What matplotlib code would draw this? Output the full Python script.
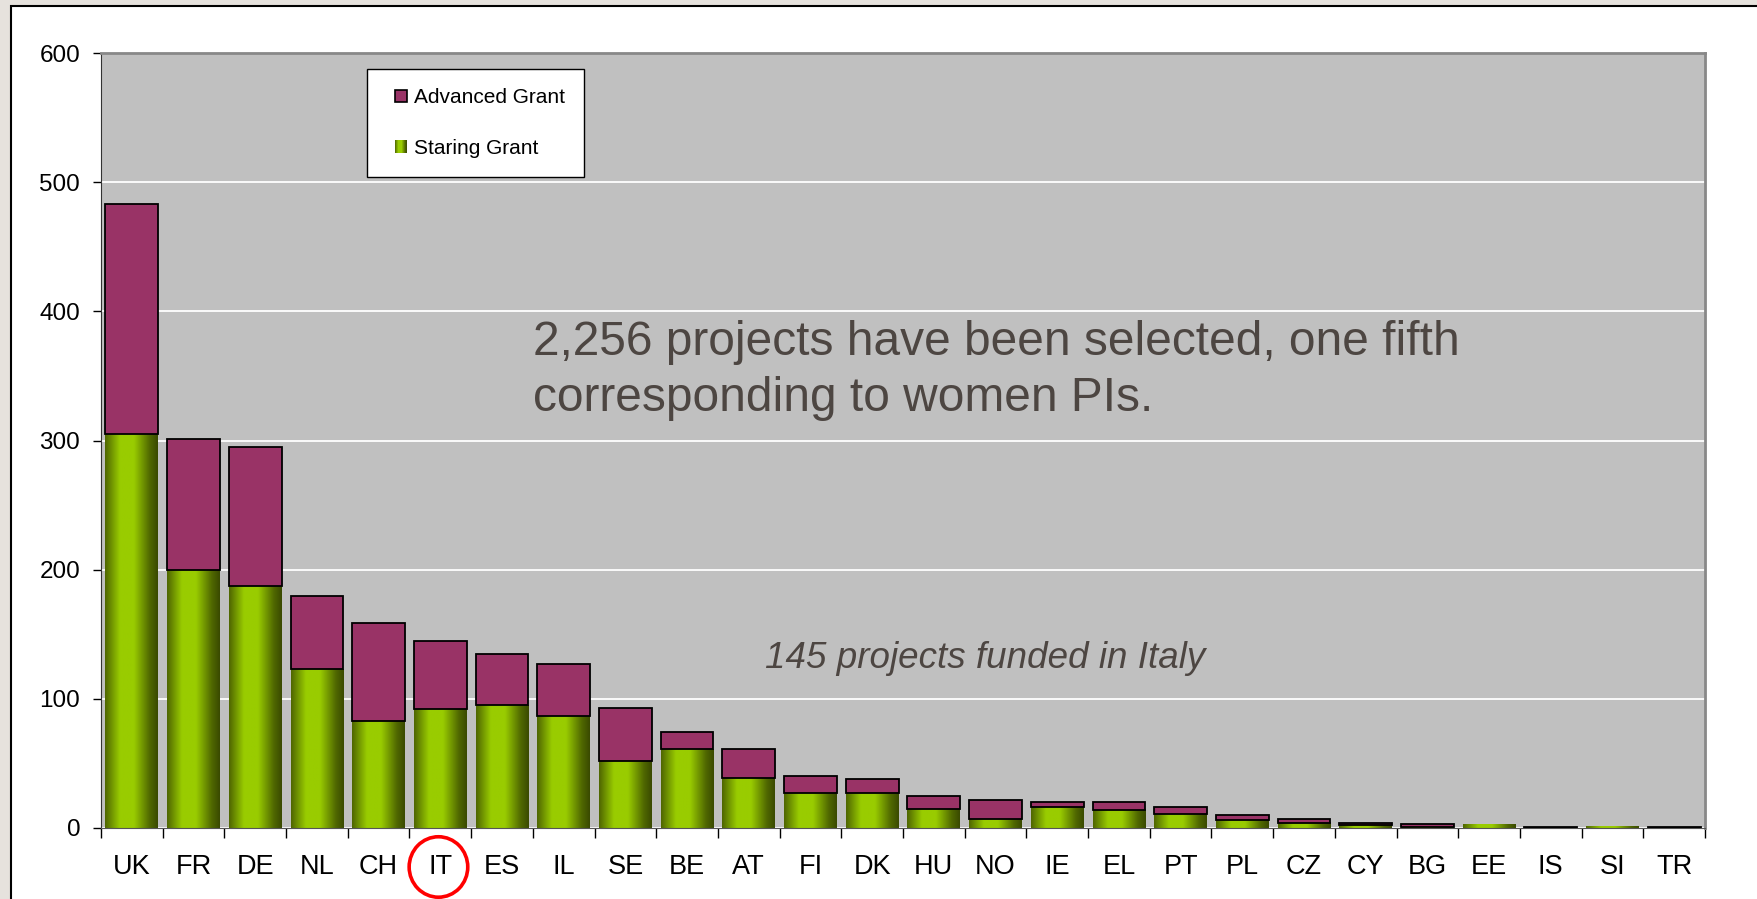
# Projets ERC financés par pays : Starting Grant + Advanced Grant (barres empilées)
import matplotlib
matplotlib.use("Agg")
import matplotlib.pyplot as plt
import numpy as np
from matplotlib.colors import LinearSegmentedColormap
from matplotlib.patches import Rectangle, Ellipse
from matplotlib.legend_handler import HandlerBase

plt.rcParams["font.family"] = ["Liberation Sans", "DejaVu Sans"]

# Données
pays = ["UK", "FR", "DE", "NL", "CH", "IT", "ES", "IL", "SE", "BE", "AT", "FI", "DK",
        "HU", "NO", "IE", "EL", "PT", "PL", "CZ", "CY", "BG", "EE", "IS", "SI", "TR"]
starting = [305, 200, 187, 123, 83, 92, 95, 87, 52, 61, 39, 27, 27,
            15, 7, 16, 14, 11, 6, 4, 2, 1, 3, 0, 1, 0]
advanced = [178, 101, 108, 57, 76, 53, 40, 40, 41, 13, 22, 13, 11,
            10, 15, 4, 6, 5, 4, 3, 2, 2, 0, 1, 0, 1]
graduations = [0, 100, 200, 300, 400, 500, 600]

VERT = "#99cc00"
VIOLET = "#993366"
TEXTE = "#4d4642"

# Dégradé horizontal des barres vertes (sombre - clair - sombre)
cmap = LinearSegmentedColormap.from_list(
    "vert", [(0, "#4f6600"), (0.28, "#99cc00"), (0.55, "#99cc00"), (0.85, "#506800"), (1, "#3a4a00")])


class CarreHandler(HandlerBase):
    """Petit carré de légende, calé à droite de la zone du symbole"""
    def __init__(self, degrade=False):
        super().__init__()
        self.degrade = degrade

    def create_artists(self, legend, orig_handle, xdescent, ydescent,
                       width, height, fontsize, trans):
        cote = height * 0.95
        x0 = -xdescent + width - cote
        y0 = -ydescent + (height - cote) / 2
        if not self.degrade:
            return [Rectangle((x0, y0), cote * 0.92, cote, facecolor=orig_handle.get_facecolor(),
                              edgecolor="black", linewidth=1.2, transform=trans)]
        n = 12
        arts = []
        for i in range(n):
            arts.append(Rectangle((x0 + i * cote * 0.92 / n, y0), cote * 0.92 / n, cote,
                                  facecolor=cmap((i + 0.5) / n), edgecolor="none",
                                  transform=trans))
        return arts


fig = plt.figure(figsize=(17.58, 8.99), dpi=100, facecolor="#e6e2dd")
# panneau blanc avec bordure noire (gauche et haut)
fig.add_artist(Rectangle((11 / 1758, -0.05), 1.2, 1.05 - 6 / 899, transform=fig.transFigure,
                         facecolor="white", edgecolor="black", linewidth=1.5, zorder=-1))

ax = fig.add_axes([101 / 1758, 71 / 899, 1604 / 1758, 775 / 899])
ax.set_facecolor("#c0c0c0")

x = np.arange(len(pays))
larg = 0.855
barres_sg = ax.bar(x, starting, larg, color=VERT, linewidth=0, zorder=2)
barres_ag = ax.bar(x, advanced, larg, bottom=starting, color=VIOLET, edgecolor="black",
                   linewidth=[1.3 if a > 0 else 0 for a in advanced], zorder=3)

degrade = np.linspace(0, 1, 128).reshape(1, -1)
for b in barres_sg:
    if b.get_height() > 0:
        ax.imshow(degrade, cmap=cmap, aspect="auto", interpolation="bilinear", zorder=2.5,
                  extent=[b.get_x(), b.get_x() + b.get_width(), 0, b.get_height()])

ax.set_xlim(-0.5, len(pays) - 0.5)
ax.set_ylim(0, 600)

# Axes et graduations
ax.set_xticks(x, pays)
ax.set_xticks(np.arange(-0.5, len(pays)), minor=True)
ax.tick_params(axis="x", which="major", length=0, pad=18.5, labelsize=19.5)
ax.tick_params(axis="x", which="minor", length=7, width=1, color="black")
ax.set_yticks(graduations)
ax.tick_params(axis="y", length=6, width=1, pad=9, labelsize=17.5)
ax.yaxis.grid(True, color="white", linewidth=1.3)
ax.set_axisbelow(True)

ax.spines["top"].set_color("#888888")
ax.spines["right"].set_color("#888888")
ax.spines["top"].set_linewidth(2)
ax.spines["right"].set_linewidth(2)
ax.spines["left"].set_color("#333333")
ax.spines["bottom"].set_color("#555555")

# Légende
proxy_ag = Rectangle((0, 0), 1, 1, facecolor=VIOLET, edgecolor="black", linewidth=1)
proxy_sg = Rectangle((0, 0), 1, 1, facecolor=VERT)
leg = ax.legend([proxy_ag, proxy_sg], ["Advanced Grant", "Staring Grant"],
                handler_map={proxy_ag: CarreHandler(), proxy_sg: CarreHandler(degrade=True)},
                loc="upper left", bbox_to_anchor=(0.1658, 0.979), borderaxespad=0,
                fontsize=15, handlelength=1.05, handleheight=0.6, handletextpad=0.3,
                labelspacing=1.5, borderpad=0.92, fancybox=False, framealpha=1,
                edgecolor="black", facecolor="white")
leg.get_frame().set_linewidth(1)

# Annotations
ax.text(0.2693, 0.655, "2,256 projects have been selected, one fifth\ncorresponding to women PIs.",
        transform=ax.transAxes, fontsize=34.5, color=TEXTE, va="top", ha="left", linespacing=1.3)
ax.text(0.414, 0.2065, "145 projects funded in Italy", transform=ax.transAxes,
        fontsize=26.5, color=TEXTE, style="italic", va="baseline", ha="left")

# Cercle rouge autour de IT
idx = pays.index("IT")
ax.add_patch(Ellipse((idx - 0.03, -0.0503), width=0.95, height=0.078,
                     transform=ax.get_xaxis_transform(), fill=False,
                     edgecolor="red", linewidth=2.6, clip_on=False))

fig.savefig("out.png", dpi=100, facecolor=fig.get_facecolor())
